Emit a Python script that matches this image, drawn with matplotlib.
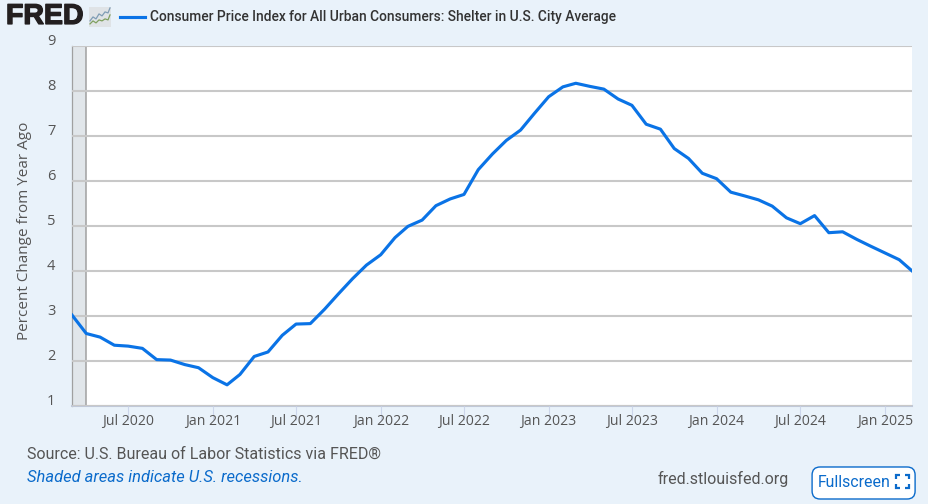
import matplotlib
matplotlib.use("Agg")
import matplotlib.pyplot as plt
import matplotlib.dates as mdates
import matplotlib.patheffects as pe
from matplotlib.patches import FancyBboxPatch, Rectangle
from matplotlib.transforms import ScaledTranslation
import pandas as pd

# valeurs (mars 2020 -> mars 2025)
mois = pd.date_range("2020-03-01", "2025-03-01", freq="MS")
shelter = [3.02, 2.61, 2.53, 2.35, 2.33, 2.28, 2.03, 2.02, 1.92, 1.85,
           1.63, 1.47, 1.70, 2.10, 2.20, 2.57, 2.82, 2.83, 3.15, 3.49,
           3.83, 4.13, 4.36, 4.74, 4.99, 5.13, 5.45, 5.60, 5.70, 6.25,
           6.60, 6.90, 7.13, 7.50, 7.87, 8.09, 8.17, 8.10, 8.04, 7.82,
           7.68, 7.26, 7.15, 6.72, 6.50, 6.17, 6.05, 5.75, 5.67, 5.58,
           5.44, 5.18, 5.05, 5.23, 4.85, 4.87, 4.70, 4.55, 4.40, 4.25, 4.00]
recession = ["2020-03-01", "2020-04-01"]
y_ticks = [1, 2, 3, 4, 5, 6, 7, 8, 9]
x_ticks = ["2020-07-01", "2021-01-01", "2021-07-01", "2022-01-01", "2022-07-01",
           "2023-01-01", "2023-07-01", "2024-01-01", "2024-07-01", "2025-01-01"]
logo_x = [90, 93, 96, 99, 102, 105, 108, 110]
logo_bleu = [21, 17, 19, 14, 16, 12, 13, 8]
logo_vert = [24, 21, 23, 20, 21, 19, 20, 15]

titre = "Consumer Price Index for All Urban Consumers: Shelter in U.S. City Average"
fond = "#e9f2fa"
bleu = "#0a73e6"

fig = plt.figure(figsize=(9.281, 5.041), dpi=100, facecolor=fond)
ax = fig.add_axes([72 / 928, 1 - 406 / 504, 840 / 928, 360 / 504], facecolor="white")

ax.axvspan(pd.Timestamp(recession[0]), pd.Timestamp(recession[1]), facecolor="#e1e6ea", zorder=0)
ax.axvline(pd.Timestamp(recession[1]), color="#a0a0a0", lw=1.1, zorder=1)
ax.plot(mois, shelter, color=bleu, lw=2.25, solid_joinstyle="round", zorder=4, clip_on=True)

ax.set_xlim(mois[0], mois[-1])
ax.set_ylim(1, 9)
ax.set_yticks(y_ticks)
ax.grid(axis="y", color="#c8c8c8", lw=1.5, zorder=2)
ax.set_axisbelow(False)
ax.set_xticks(pd.to_datetime(x_ticks))
ax.xaxis.set_major_formatter(mdates.DateFormatter("%b %Y"))
ax.tick_params(axis="x", length=10, width=0.8, color="#ccd6eb", pad=-4, labelcolor="#555555")
ax.tick_params(axis="y", length=0, pad=12, labelcolor="#555555")
for lab in ax.get_xticklabels():
    lab.set_fontfamily("Open Sans")
    lab.set_fontsize(10.1)
decal = ScaledTranslation(0, 7 / 100, fig.dpi_scale_trans)
for lab in ax.get_yticklabels():
    lab.set_fontfamily("Open Sans")
    lab.set_fontsize(10.5)
    lab.set_transform(lab.get_transform() + decal)

for cote in ["top", "right"]:
    ax.spines[cote].set_visible(False)
ax.spines["left"].set_color("#a0a0a0")
ax.spines["left"].set_linewidth(0.9)
ax.spines["bottom"].set_color("#c0c8d8")
ax.spines["bottom"].set_linewidth(1.5)

# calque en pixels pour le logo, le titre et le bas de page
px = fig.add_axes([0, 0, 1, 1], facecolor="none")
px.set_xlim(0, 928)
px.set_ylim(504, 0)
px.axis("off")

px.text(6, 17, "FRED", family="Liberation Sans", weight="bold", fontsize=20.5,
        color="#231f20", va="center", ha="left",
        path_effects=[pe.withStroke(linewidth=1, foreground="#231f20")])
px.add_patch(Rectangle((89, 7), 22, 20, facecolor="#dfe3e6", edgecolor="none"))
px.plot(logo_x, logo_bleu, color="#7f9db5", lw=0.9)
px.plot(logo_x, logo_vert, color="#7fa060", lw=0.9)
px.plot([120, 145], [17, 17], color=bleu, lw=2.25)
px.text(150, 16.5, titre, family="Roboto", weight="medium", fontsize=9.9,
        color="#333333", va="center", ha="left")

px.text(24, 231, "Percent Change from Year Ago", family="Open Sans", fontsize=11,
        color="#555555", rotation=90, va="center", ha="center")

px.text(27, 454, "Source: U.S. Bureau of Labor Statistics via FRED®", family="Roboto",
        fontsize=11.5, color="#555555", va="center", ha="left")
px.text(27, 477, "Shaded areas indicate U.S. recessions.", family="Roboto", style="italic",
        fontsize=11.85, color="#0b6bcb", va="center", ha="left")
px.text(658, 479, "fred.stlouisfed.org", family="Roboto", fontsize=11.5,
        color="#555555", va="center", ha="left")

px.add_patch(FancyBboxPatch((812, 467), 103, 32, boxstyle="round,pad=0,rounding_size=8",
                            facecolor="white", edgecolor="#0b6bcb", lw=1))
px.text(818, 482.5, "Fullscreen", family="Roboto", fontsize=11.4, color="#0b6bcb",
        va="center", ha="left")
# icone plein ecran
for xc, yc, dx, dy in [(896, 475, 1, 1), (909, 475, -1, 1), (896, 488, 1, -1), (909, 488, -1, -1)]:
    px.plot([xc + 4 * dx, xc, xc], [yc, yc, yc + 4 * dy], color="#0b6bcb", lw=1.6,
            solid_capstyle="butt", solid_joinstyle="miter")

fig.savefig("out.png", dpi=100, facecolor=fond)
